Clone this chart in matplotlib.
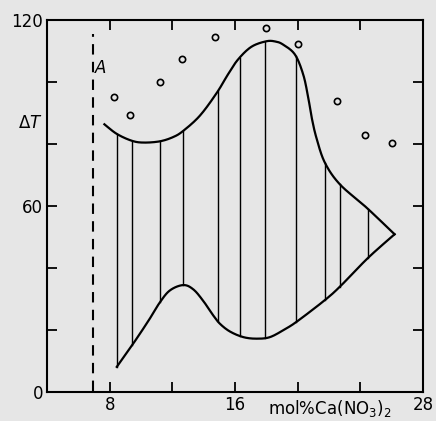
import numpy as np
import matplotlib
matplotlib.use("Agg")
import matplotlib.pyplot as plt

# upper boundary of the two-phase region
upper_x = [7.66, 8.45, 9.4, 10.15, 11.2, 12.06, 12.7, 13.76, 14.83, 15.55, 16.19, 17.04, 18.0,
           18.6, 19.08, 19.83, 20.36, 20.68, 20.9, 21.2, 21.74, 22.7, 24.4, 26.19]
upper_y = [86.4, 83.3, 81.1, 80.5, 80.9, 82.3, 84.3, 89.2, 96.5, 102.5, 107.3, 111.4, 113.2,
           113.1, 112.1, 108.9, 102.4, 94.9, 88.5, 82.0, 74.0, 67.0, 59.5, 50.9]

# lower boundary
lower_x = [8.45, 9.5, 10.5, 11.2, 11.85, 12.7, 13.34, 13.97, 14.61, 15.04, 15.68, 16.53, 17.38,
           18.23, 19.17, 20.0, 21.8, 22.8, 24.5, 26.19]
lower_y = [8.1, 15.6, 23.2, 28.9, 32.8, 34.5, 33.1, 29.4, 24.7, 22.0, 19.5, 17.7, 17.2,
           17.7, 20.2, 22.9, 29.9, 34.5, 43.3, 50.9]

# tie lines
tie_x = [8.45, 9.45, 11.2, 12.7, 14.9, 16.3, 17.9, 19.9, 21.75, 22.7, 24.5]

# open circles
pts_x = [8.28, 9.3, 11.2, 12.6, 14.7, 18.0, 20.0, 22.5, 24.3, 26.0]
pts_y = [95.2, 89.4, 100.0, 107.4, 114.5, 117.4, 112.3, 93.9, 82.9, 80.3]


def smooth(xs, ys, n=20):
    # catmull-rom through the read points, just for drawing
    p = np.column_stack([xs, ys])
    p = np.vstack([p[0], p, p[-1]])
    out = []
    t = np.linspace(0, 1, n, endpoint=False)[:, None]
    for i in range(1, len(p) - 2):
        p0, p1, p2, p3 = p[i - 1], p[i], p[i + 1], p[i + 2]
        seg = 0.5 * (2 * p1 + (-p0 + p2) * t + (2 * p0 - 5 * p1 + 4 * p2 - p3) * t ** 2
                     + (-p0 + 3 * p1 - 3 * p2 + p3) * t ** 3)
        out.append(seg)
    out.append(p[-2][None, :])
    out = np.vstack(out)
    return out[:, 0], out[:, 1]


bg = "#e6e6e6"
fig = plt.figure(figsize=(4.36, 4.21), dpi=100, facecolor=bg)
ax = fig.add_axes([0.108, 0.069, 0.862, 0.883], facecolor=bg)

ux, uy = smooth(upper_x, upper_y)
lx, ly = smooth(lower_x, lower_y)
ax.plot(ux, uy, color="black", lw=1.6)
ax.plot(lx, ly, color="black", lw=1.6)
for x in tie_x:
    y0 = np.interp(x, lx, ly)
    y1 = np.interp(x, ux, uy)
    ax.plot([x, x], [y0, y1], color="black", lw=1.0)

ax.plot(pts_x, pts_y, "o", ms=4.5, mfc="none", mec="black", mew=1.2)

ax.plot([6.9, 6.9], [0.3, 115.5], color="black", lw=1.5, dashes=(5, 3.5))
ax.text(7.4, 104.5, "A", fontsize=12, style="italic", ha="center", va="center")

ax.set_xlim(4, 28)
ax.set_ylim(0, 120)
ax.set_xticks([8, 12, 16, 20, 24, 28])
ax.set_xticklabels(["8", "", "16", "", "", "28"])
ax.set_yticks([0, 20, 40, 60, 80, 100, 120])
ax.set_yticklabels(["0", "", "", "60", "", "", "120"])
ax.tick_params(direction="in", length=7, width=1.3, top=True, right=True,
               labelsize=12, pad=3)
for s in ax.spines.values():
    s.set_linewidth(1.5)

ax.text(-0.045, 0.723, r"$\Delta T$", transform=ax.transAxes, fontsize=12,
        ha="center", va="center")
ax.text(0.753, -0.045, r"mol%Ca(NO$_3$)$_2$", transform=ax.transAxes, fontsize=12,
        ha="center", va="center")

fig.savefig("out.png", dpi=100, facecolor=bg)
